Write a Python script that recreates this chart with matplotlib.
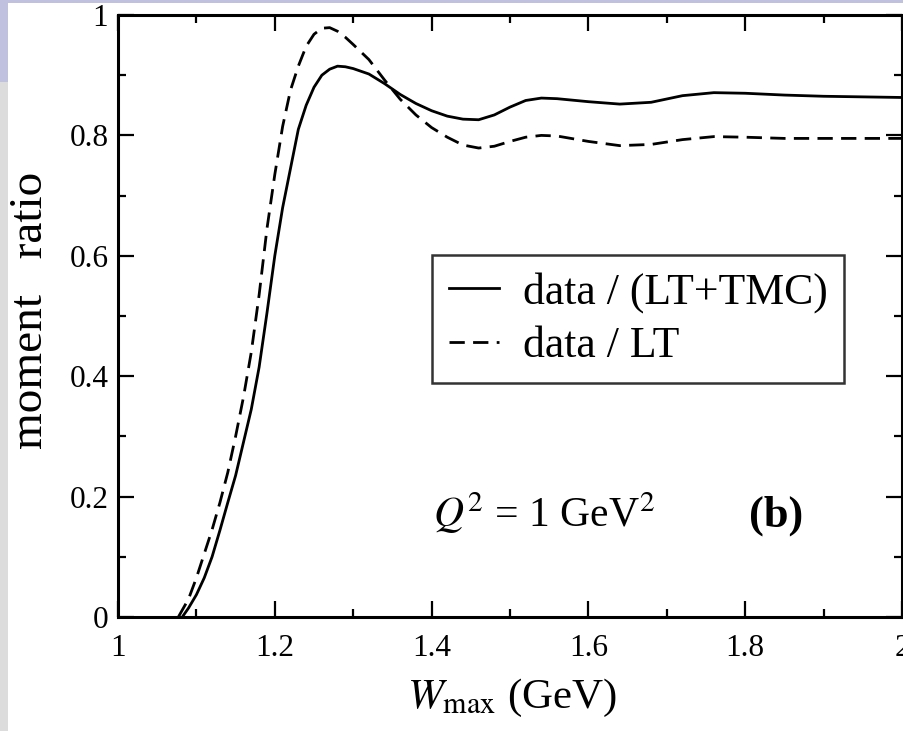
import matplotlib
matplotlib.use("Agg")
import matplotlib.pyplot as plt
from matplotlib.patches import Rectangle
from matplotlib.ticker import MultipleLocator, FormatStrFormatter

plt.rcParams['font.family'] = ['Liberation Serif', 'DejaVu Serif']
plt.rcParams['mathtext.fontset'] = 'stix'

# data / (LT+TMC), solid
w_tmc = [1.082, 1.09, 1.10, 1.11, 1.12, 1.13, 1.14, 1.15, 1.16, 1.17, 1.18, 1.19,
         1.20, 1.21, 1.22, 1.23, 1.24, 1.25, 1.26, 1.27, 1.28, 1.29, 1.30, 1.32,
         1.34, 1.36, 1.38, 1.40, 1.42, 1.44, 1.46, 1.48, 1.50, 1.52, 1.54, 1.56,
         1.60, 1.64, 1.68, 1.72, 1.76, 1.80, 1.85, 1.90, 1.95, 2.00]
r_tmc = [0.0, 0.015, 0.037, 0.065, 0.10, 0.144, 0.19, 0.235, 0.29, 0.345, 0.415, 0.505,
         0.60, 0.68, 0.745, 0.81, 0.85, 0.88, 0.90, 0.91, 0.915, 0.914, 0.911, 0.902,
         0.886, 0.868, 0.853, 0.841, 0.832, 0.827, 0.826, 0.834, 0.847, 0.858, 0.862, 0.861,
         0.856, 0.852, 0.855, 0.866, 0.871, 0.870, 0.867, 0.865, 0.864, 0.863]

# data / LT, dashed
w_lt = [1.077, 1.08, 1.09, 1.10, 1.11, 1.12, 1.13, 1.14, 1.15, 1.16, 1.17, 1.18,
        1.19, 1.20, 1.21, 1.22, 1.23, 1.24, 1.25, 1.26, 1.27, 1.28, 1.29, 1.30,
        1.32, 1.34, 1.36, 1.38, 1.40, 1.42, 1.44, 1.46, 1.48, 1.50, 1.52, 1.54,
        1.56, 1.60, 1.64, 1.68, 1.72, 1.76, 1.80, 1.85, 1.90, 1.95, 2.00]
r_lt = [0.0, 0.007, 0.03, 0.065, 0.105, 0.145, 0.19, 0.24, 0.30, 0.365, 0.44, 0.535,
        0.645, 0.735, 0.815, 0.875, 0.915, 0.948, 0.968, 0.978, 0.979, 0.973, 0.963, 0.951,
        0.926, 0.892, 0.860, 0.834, 0.813, 0.797, 0.784, 0.779, 0.782, 0.790, 0.797, 0.800,
        0.799, 0.790, 0.783, 0.785, 0.793, 0.798, 0.797, 0.795, 0.795, 0.795, 0.795]

fig = plt.figure(figsize=(9.04, 7.31), dpi=100)
fig.patch.set_facecolor('white')

# slide background strips
fig.patches.append(Rectangle((0, 0), 8 / 904, 1, transform=fig.transFigure,
                             facecolor='#dcdcdc', edgecolor='none', zorder=-10))
fig.patches.append(Rectangle((0, 1 - 82 / 731), 8 / 904, 82 / 731, transform=fig.transFigure,
                             facecolor='#bfc1de', edgecolor='none', zorder=-9))
fig.patches.append(Rectangle((0, 1 - 3 / 731), 1, 3 / 731, transform=fig.transFigure,
                             facecolor='#bfc1de', edgecolor='none', zorder=-9))

ax = fig.add_axes([118 / 904, (731 - 617) / 731, 784 / 904, 602 / 731])

ax.plot(w_tmc, r_tmc, color='black', lw=2.0, label='data / (LT+TMC)')
ax.plot(w_lt, r_lt, color='black', lw=2.0, dashes=(5.5, 3), label='data / LT')

ax.set_xlim(1, 2)
ax.set_ylim(0, 1)
ax.xaxis.set_major_locator(MultipleLocator(0.2))
ax.xaxis.set_minor_locator(MultipleLocator(0.1))
ax.yaxis.set_major_locator(MultipleLocator(0.2))
ax.yaxis.set_minor_locator(MultipleLocator(0.1))
ax.xaxis.set_major_formatter(FormatStrFormatter('%g'))
ax.yaxis.set_major_formatter(FormatStrFormatter('%g'))
ax.tick_params(which='both', direction='in', top=True, right=True, width=1.6, labelsize=22.5)
ax.tick_params(which='major', length=11.5)
ax.tick_params(which='minor', length=5.8)
ax.tick_params(axis='x', which='major', pad=12)
ax.tick_params(axis='y', which='major', pad=7)
for s in ax.spines.values():
    s.set_linewidth(2.2)

fig.text(31 / 904, (731 - 310) / 731, 'moment   ratio', rotation=90,
         ha='center', va='center', fontsize=34)
fig.text(512 / 904, (731 - 708) / 731, r'$W_{\rm max}$ (GeV)', ha='center',
         va='baseline', fontsize=31)

ax.text(1.402, 0.1495, r'$Q^2$ = 1 GeV$^2$', fontsize=30, va='baseline', ha='left')
ax.text(1.84, 0.1495, '(b)', fontsize=32, fontweight='bold', va='baseline', ha='center')

leg = ax.legend(loc='upper left', bbox_to_anchor=(0.4005, 0.601), borderaxespad=0,
                fontsize=31.5, frameon=True, fancybox=False, handlelength=1.15,
                handletextpad=0.55, borderpad=0.38, labelspacing=0.3)
leg.get_frame().set_edgecolor('black')
leg.get_frame().set_linewidth(1.8)

fig.savefig('out.png', dpi=100)
